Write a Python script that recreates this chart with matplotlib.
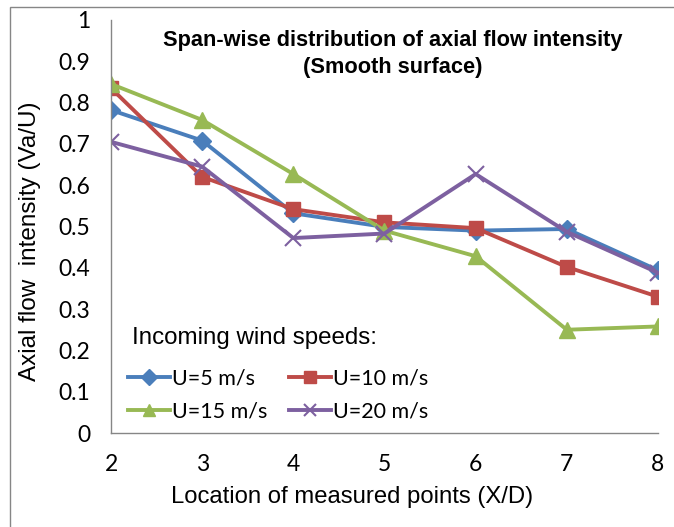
import matplotlib
matplotlib.use("Agg")
import matplotlib.pyplot as plt
from matplotlib.patches import Rectangle

# measured axial flow intensity (Va/U) at each X/D station
locations = [2, 3, 4, 5, 6, 7, 8]
u5 = [0.782, 0.708, 0.532, 0.499, 0.490, 0.494, 0.394]
u10 = [0.835, 0.620, 0.542, 0.510, 0.496, 0.402, 0.330]
u15 = [0.845, 0.758, 0.627, 0.490, 0.428, 0.250, 0.258]
u20 = [0.705, 0.645, 0.472, 0.483, 0.627, 0.487, 0.388]
labels = ["U=5 m/s", "U=10 m/s", "U=15 m/s", "U=20 m/s"]
yticks = [0, 0.1, 0.2, 0.3, 0.4, 0.5, 0.6, 0.7, 0.8, 0.9, 1]

series = [
    (u5, "#4A7EBB", "D", 9),
    (u10, "#BE4B48", "s", 10),
    (u15, "#98B954", "^", 11),
    (u20, "#7D60A0", "x", 11),
]

plt.rcParams["font.family"] = ["Liberation Sans", "DejaVu Sans"]

W, H = 674, 527
fig = plt.figure(figsize=(W / 100, H / 100), dpi=100)
ax = fig.add_axes([111 / W, 1 - 433 / H, 547 / W, 413 / H])

lines = []
for (vals, color, marker, ms), label in zip(series, labels):
    ln, = ax.plot(locations, vals, color=color, lw=2.8, marker=marker, ms=ms,
                  mec=color, mfc=color, mew=1.5 if marker == "x" else 1,
                  label=label)
    lines.append(ln)

ax.set_xlim(2, 8)
ax.set_ylim(0, 1)
ax.set_xticks(locations)
ax.set_yticks(yticks)
ax.set_yticklabels([f"{t:g}" for t in yticks])
for lab in ax.get_xticklabels() + ax.get_yticklabels():
    lab.set_family(["Lato", "DejaVu Sans"])
ax.tick_params(length=0, labelsize=16.5, pad=15)
for side in ("top", "right"):
    ax.spines[side].set_visible(False)
for side in ("left", "bottom"):
    ax.spines[side].set_color("#868686")
    ax.spines[side].set_linewidth(1.0)

# axis titles are centred on the chart area rather than the plot area
ax.set_xlabel("Location of measured points (X/D)", fontsize=17.2, va="center")
ax.xaxis.set_label_coords(352 / W, 1 - 497 / H, transform=fig.transFigure)
ax.set_ylabel("Axial flow  intensity (Va/U)", fontsize=17.5, va="center")
ax.yaxis.set_label_coords(30 / W, 1 - 241 / H, transform=fig.transFigure)

fig.text(393 / W, 1 - 54 / H,
         "Span-wise distribution of axial flow intensity\n(Smooth surface)",
         ha="center", va="center", fontsize=15.7, fontweight="bold",
         linespacing=1.4)

# legend heading drawn separately, entries in two columns beneath it
fig.text(132 / W, 1 - 338 / H, "Incoming wind speeds:", fontsize=17.4,
         ha="left", va="center")
order = [0, 2, 1, 3]  # legend fills column-wise
leg = ax.legend([lines[i] for i in order], [labels[i] for i in order],
                ncol=2, frameon=False, loc="center left",
                bbox_to_anchor=(128 / W, 1 - 395 / H),
                bbox_transform=fig.transFigure,
                prop={"family": ["Lato", "DejaVu Sans"], "size": 15.5},
                handlelength=1.95, handletextpad=0.1, columnspacing=1.0,
                labelspacing=0.62, markerscale=0.85,
                borderpad=0, borderaxespad=0)

# chart area border, running off the right and bottom edges
fig.patches.append(Rectangle((10 / W, -0.05), 1.0, 1.05 - 7 / H,
                             transform=fig.transFigure, fill=False,
                             edgecolor="#868686", lw=1.0))

fig.savefig("out.png", dpi=100)
